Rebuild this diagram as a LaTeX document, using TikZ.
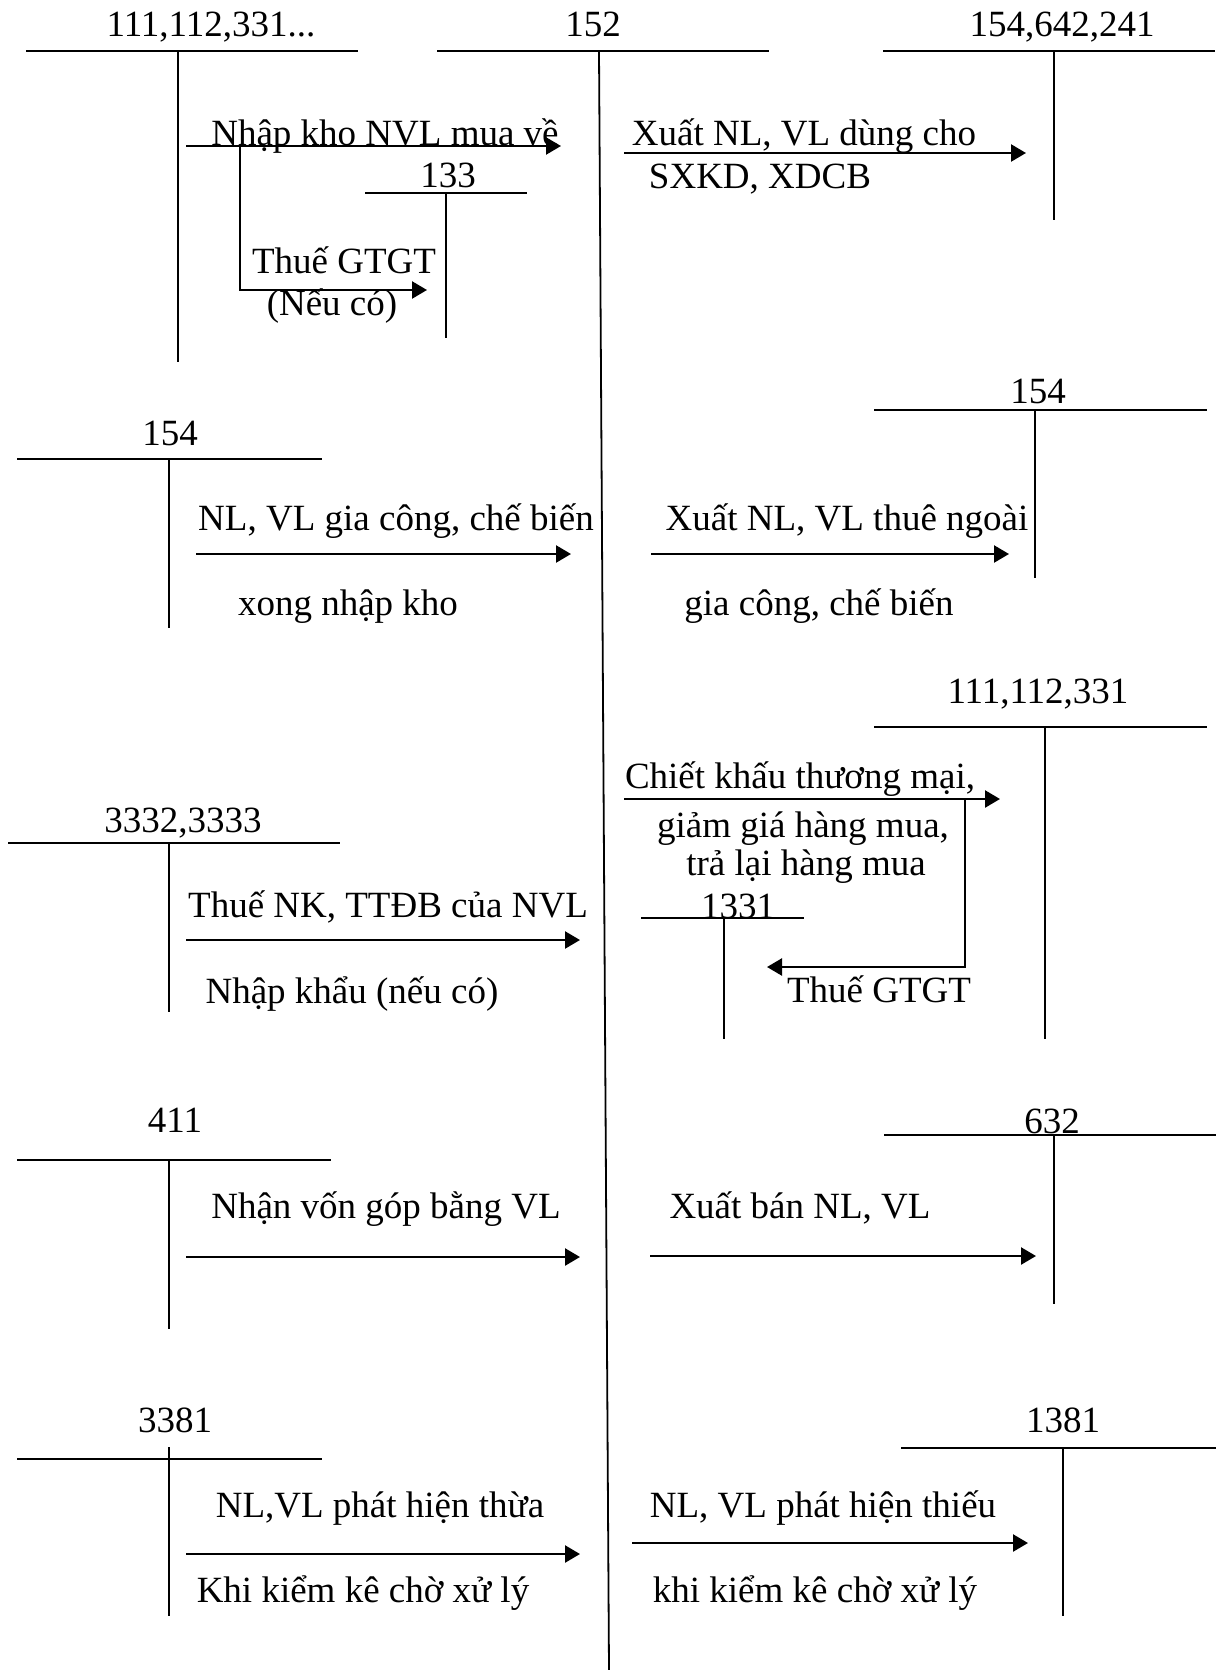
\documentclass[tikz,border=0pt]{standalone}
\usepackage{fontspec}
\setmainfont{Liberation Serif}
\usetikzlibrary{arrows.meta}
\begin{document}
\begin{tikzpicture}[x=1pt,y=-1pt,
  acc/.style={line width=1.8pt},
  lbl/.style={anchor=base,inner sep=0pt,font=\fontsize{37}{43}\selectfont},
  arr/.style={line width=2.4pt,-{Triangle[length=15pt,width=17pt]}}]
\path[use as bounding box] (0,0) rectangle (1216,1670);

% ---------- T-accounts (left ends, right ends, stems) ----------
% 111,112,331...
\coordinate (Al) at (26,51);   \coordinate (Ar) at (358,51);
\coordinate (At) at (178,51);  \coordinate (Ab) at (178,362);
\node[lbl] (A) at (211,37) {111,112,331...};
% 152
\coordinate (Ml) at (437,51);  \coordinate (Mr) at (769,51);
\coordinate (Mt) at (599,51);  \coordinate (Mb) at (609,1670);
\node[lbl] (M) at (593,37) {152};
% 154,642,241
\coordinate (Bl) at (883,51);  \coordinate (Br) at (1215,51);
\coordinate (Bt) at (1054,51); \coordinate (Bb) at (1054,220);
\node[lbl] (B) at (1062,37) {154,642,241};
% 133
\coordinate (Cl) at (365,193); \coordinate (Cr) at (527,193);
\coordinate (Ct) at (446,193); \coordinate (Cb) at (446,338);
\node[lbl] (C) at (448,187) {133};
% 154 left
\coordinate (Dl) at (17,459);  \coordinate (Dr) at (322,459);
\coordinate (Dt) at (169,459); \coordinate (Db) at (169,628);
\node[lbl] (D) at (170,445) {154};
% 154 right
\coordinate (El) at (874,410); \coordinate (Er) at (1207,410);
\coordinate (Et) at (1035,410);\coordinate (Eb) at (1035,578);
\node[lbl] (E) at (1038,403) {154};
% 3332,3333
\coordinate (Fl) at (8,843);   \coordinate (Fr) at (340,843);
\coordinate (Ft) at (169,843); \coordinate (Fb) at (169,1012);
\node[lbl] (F) at (183,832) {3332,3333};
% 111,112,331
\coordinate (Gl) at (874,727); \coordinate (Gr) at (1207,727);
\coordinate (Gt) at (1045,727);\coordinate (Gb) at (1045,1039);
\node[lbl] (G) at (1038,703) {111,112,331};
% 1331
\coordinate (Hl) at (641,918); \coordinate (Hr) at (804,918);
\coordinate (Ht) at (724,918); \coordinate (Hb) at (724,1039);
\node[lbl] (H) at (738,918) {1331};
% 411
\coordinate (Il) at (17,1160); \coordinate (Ir) at (331,1160);
\coordinate (It) at (169,1160);\coordinate (Ib) at (169,1329);
\node[lbl] (I) at (175,1132) {411};
% 632
\coordinate (Jl) at (884,1135);\coordinate (Jr) at (1216,1135);
\coordinate (Jt) at (1054,1135);\coordinate (Jb) at (1054,1304);
\node[lbl] (J) at (1052,1133) {632};
% 3381
\coordinate (Kl) at (17,1459); \coordinate (Kr) at (322,1459);
\coordinate (Kt) at (169,1447);\coordinate (Kb) at (169,1616);
\node[lbl] (K) at (175,1432) {3381};
% 1381
\coordinate (Ll) at (901,1448);\coordinate (Lr) at (1216,1448);
\coordinate (Lt) at (1063,1447);\coordinate (Lb) at (1063,1616);
\node[lbl] (L) at (1063,1432) {1381};

\foreach \a in {A,M,B,C,D,E,F,G,H,I,J,K,L}{
  \draw[acc] (\a l) -- (\a r);
  \draw[acc] (\a t) -- (\a b);
}

% ---------- arrows ----------
% Nhap kho NVL mua ve
\coordinate (a1s) at (186,146); \coordinate (a1e) at (561,146);
\draw[arr] (a1s) -- (a1e);
\node[lbl] (t1) at (385,145) {Nhập kho NVL mua về};
\coordinate (a2s) at (240,146); \coordinate (a2c) at (240,290); \coordinate (a2e) at (427,290);
\draw[arr] (a2s) -- (a2c) -- (a2e);
\node[lbl] (t2) at (344,273) {Thuế GTGT};
\node[lbl] (t3) at (332,315) {(Nếu có)};
% Xuat NL, VL dung cho
\coordinate (a3s) at (624,153); \coordinate (a3e) at (1026,153);
\draw[arr] (a3s) -- (a3e);
\node[lbl] (t4) at (804,145) {Xuất NL, VL dùng cho};
\node[lbl] (t5) at (760,188) {SXKD, XDCB};
% NL, VL gia cong
\coordinate (a4s) at (196,554); \coordinate (a4e) at (571,554);
\draw[arr] (a4s) -- (a4e);
\node[lbl] (t6) at (396,530) {NL, VL gia công, chế biến};
\node[lbl] (t7) at (348,615) {xong nhập kho};
% Xuat NL, VL thue ngoai
\coordinate (a5s) at (651,554); \coordinate (a5e) at (1009,554);
\draw[arr] (a5s) -- (a5e);
\node[lbl] (t8) at (847,530) {Xuất NL, VL thuê ngoài};
\node[lbl] (t9) at (819,615) {gia công, chế biến};
% Thue NK
\coordinate (a6s) at (186,940); \coordinate (a6e) at (580,940);
\draw[arr] (a6s) -- (a6e);
\node[lbl] (t10) at (388,917) {Thuế NK, TTĐB của NVL};
\node[lbl] (t11) at (352,1003) {Nhập khẩu (nếu có)};
% Chiet khau
\coordinate (a7s) at (624,799); \coordinate (a7e) at (1000,799);
\draw[arr] (a7s) -- (a7e);
\node[lbl] (t12) at (800,788) {Chiết khấu thương mại,};
\node[lbl] (t13) at (803,837) {giảm giá hàng mua,};
\node[lbl] (t14) at (806,875) {trả lại hàng mua};
\coordinate (a8s) at (965,799); \coordinate (a8c) at (965,967); \coordinate (a8e) at (767,967);
\draw[arr] (a8s) -- (a8c) -- (a8e);
\node[lbl] (t15) at (879,1002) {Thuế GTGT};
% Nhan von gop
\coordinate (a9s) at (186,1257); \coordinate (a9e) at (580,1257);
\draw[arr] (a9s) -- (a9e);
\node[lbl] (t16) at (386,1218) {Nhận vốn góp bằng VL};
% Xuat ban
\coordinate (a10s) at (650,1256); \coordinate (a10e) at (1036,1256);
\draw[arr] (a10s) -- (a10e);
\node[lbl] (t17) at (800,1218) {Xuất bán NL, VL};
% Phat hien thua
\coordinate (a11s) at (186,1554); \coordinate (a11e) at (580,1554);
\draw[arr] (a11s) -- (a11e);
\node[lbl] (t18) at (380,1517) {NL,VL phát hiện thừa};
\node[lbl] (t19) at (363,1602) {Khi kiểm kê chờ xử lý};
% Phat hien thieu
\coordinate (a12s) at (632,1543); \coordinate (a12e) at (1028,1543);
\draw[arr] (a12s) -- (a12e);
\node[lbl] (t20) at (823,1517) {NL, VL phát hiện thiếu};
\node[lbl] (t21) at (815,1602) {khi kiểm kê chờ xử lý};
\end{tikzpicture}
\end{document}
